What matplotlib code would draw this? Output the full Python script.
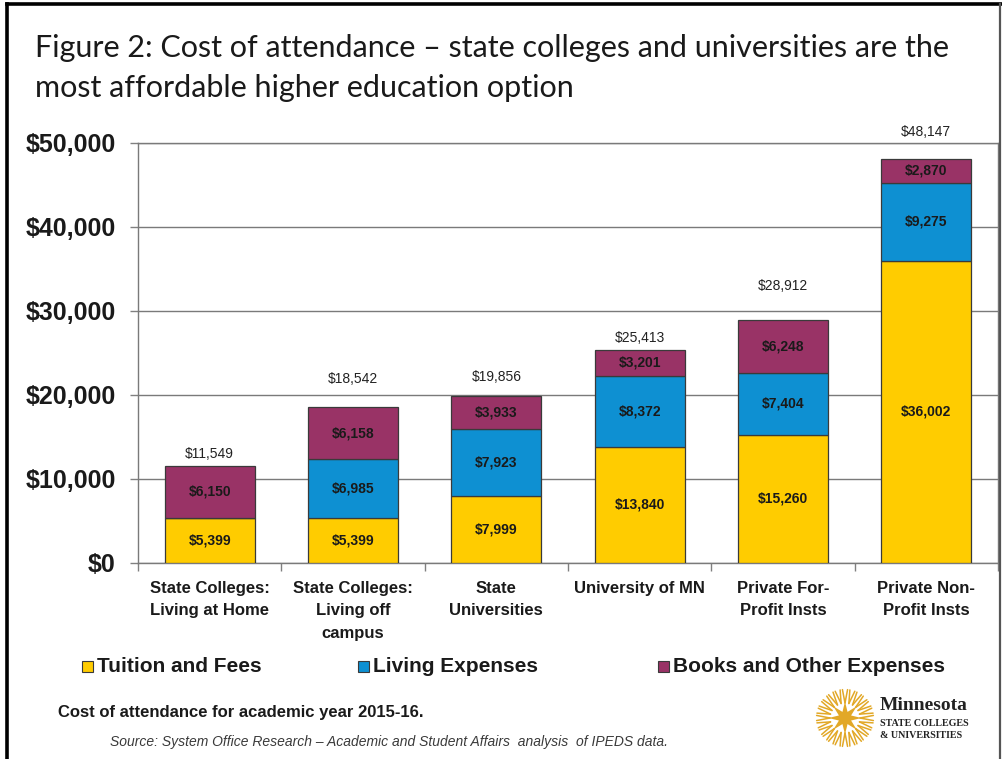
import matplotlib
matplotlib.use("Agg")
import matplotlib.pyplot as plt
import numpy as np
from matplotlib.lines import Line2D
from matplotlib.patches import Polygon, Rectangle

W, H = 1003, 759

# cost of attendance, academic year 2015-16
categories = [
    "State Colleges:\nLiving at Home",
    "State Colleges:\nLiving off\ncampus",
    "State\nUniversities",
    "University of MN",
    "Private For-\nProfit Insts",
    "Private Non-\nProfit Insts",
]
tuition = [5399, 5399, 7999, 13840, 15260, 36002]
living = [0, 6985, 7923, 8372, 7404, 9275]
books = [6150, 6158, 3933, 3201, 6248, 2870]
totals = [11549, 18542, 19856, 25413, 28912, 48147]
series_names = ["Tuition and Fees", "Living Expenses", "Books and Other Expenses"]
y_ticks = [0, 10000, 20000, 30000, 40000, 50000]

COLORS = ["#FFCC00", "#0E90D2", "#993366"]
EDGE = "#3a3a3a"
SANS = ["Liberation Sans", "DejaVu Sans"]
NARROW = ["Liberation Sans Narrow", "Liberation Sans", "DejaVu Sans"]

# gap (points) between bar top and its total label
TOTAL_OFFSETS = [8.6, 20, 13.7, 8.6, 24.5, 19.4]


def fx(px):
    return px / W


def fy(py):
    return 1 - py / H


fig = plt.figure(figsize=(W / 100, H / 100), dpi=100)
fig.patch.set_facecolor("white")

# slide frame
for xs, ys, lw, col in [((7, 7), (4, H), 2.6, "black"),
                        ((7, 1003), (4, 4), 2.6, "black"),
                        ((1000, 1000), (4, H), 1.6, "#555555")]:
    fig.add_artist(Line2D([fx(x) for x in xs], [fy(y) for y in ys],
                          color=col, linewidth=lw, transform=fig.transFigure))

fig.text(fx(35), fy(48), "Figure 2: Cost of attendance \u2013 state colleges and universities are the",
         family=["Lato", "DejaVu Sans"], fontsize=22, color="#1a1a1a", va="center", ha="left")
fig.text(fx(35), fy(88), "most affordable higher education option",
         family=["Lato", "DejaVu Sans"], fontsize=22, color="#1a1a1a", va="center", ha="left")

ax = fig.add_axes([fx(138), fy(563), (998 - 138) / W, 420 / H])
x = np.arange(len(categories))
width = 0.63

stack = [tuition, living, books]
bottom = np.zeros(len(categories))
for vals, color, name in zip(stack, COLORS, series_names):
    vals = np.array(vals, dtype=float)
    bars = ax.bar(x, vals, width, bottom=bottom, color=color, edgecolor=EDGE,
                  linewidth=0.9, label=name, zorder=3)
    for b, v, b0 in zip(bars, vals, bottom):
        if v <= 0:
            continue
        ax.text(b.get_x() + b.get_width() / 2, b0 + v / 2, f"${v:,.0f}",
                ha="center", va="center", family=SANS, fontweight="bold",
                fontsize=10, color="#1a1a1a", zorder=4)
    bottom += vals

for xi, top, total, off in zip(x, bottom, totals, TOTAL_OFFSETS):
    ax.annotate(f"${total:,}", (xi, top), xytext=(0, off), textcoords="offset points",
                ha="center", va="center", family=NARROW, fontsize=10, color="#222222")

ax.set_xlim(-0.5, len(categories) - 0.5)
ax.set_ylim(0, 50000)
ax.set_yticks(y_ticks)
ax.set_yticklabels([f"${t:,}" for t in y_ticks], family=SANS, fontweight="bold",
                   fontsize=18, color="#1a1a1a")
ax.tick_params(axis="y", length=6, width=1, color="#808080", pad=10)

ax.set_xticks(x)
ax.set_xticklabels(categories, family=SANS, fontweight="bold", fontsize=12,
                   color="#1a1a1a", linespacing=1.62, va="top")
ax.tick_params(axis="x", which="major", length=0, pad=13)
ax.set_xticks(np.arange(len(categories) + 1) - 0.5, minor=True)
ax.tick_params(axis="x", which="minor", length=6, width=1, color="#808080")

ax.grid(axis="y", color="#7a7a7a", linewidth=1, zorder=0)
ax.set_axisbelow(True)
for spine in ax.spines.values():
    spine.set_color("#7a7a7a")
    spine.set_linewidth(1)

# legend row
legend_x = [82, 358, 658]
for lx, color, name in zip(legend_x, COLORS, series_names):
    fig.add_artist(Rectangle((fx(lx), fy(672)), 11 / W, 11 / H, facecolor=color,
                             edgecolor=EDGE, linewidth=0.8, transform=fig.transFigure))
    fig.text(fx(lx + 15), fy(666), name, family=SANS, fontweight="bold",
             fontsize=15, color="#1a1a1a", va="center", ha="left")

fig.text(fx(58), fy(713), "Cost of attendance for academic year 2015-16.",
         family=SANS, fontweight="bold", fontsize=12, color="#1a1a1a", va="center")
fig.text(fx(110), fy(742),
         "Source: System Office Research \u2013 Academic and Student Affairs  analysis  of IPEDS data.",
         family=SANS, style="italic", fontsize=10, color="#3a3a3a", va="center")

# Minnesota State logo: gold starburst and wordmark
lax = fig.add_axes([fx(815), fy(748), 60 / W, 60 / H])
lax.set_xlim(-1, 1)
lax.set_ylim(-1, 1)
lax.set_aspect("equal")
lax.axis("off")
gold = "#E2A827"
ang = np.linspace(0, 2 * np.pi, 17)[:-1] + np.pi / 2
r = np.where(np.arange(16) % 2 == 0, 0.55, 0.22)
lax.add_patch(Polygon(np.c_[r * np.cos(ang), r * np.sin(ang)], closed=True,
                      facecolor=gold, edgecolor="none"))
for a in np.linspace(0, 2 * np.pi, 25)[:-1]:
    for d in (-0.09, 0.09):
        lax.plot([0.5 * np.cos(a), 0.95 * np.cos(a + d)],
                 [0.5 * np.sin(a), 0.95 * np.sin(a + d)],
                 color=gold, linewidth=1.1, solid_capstyle="round")

SERIF = ["Liberation Serif", "DejaVu Serif"]
fig.text(fx(880), fy(705), "Minnesota", family=SERIF, fontweight="bold",
         fontsize=14, color="#222222", va="center")
fig.text(fx(880), fy(723), "STATE COLLEGES", family=SERIF, fontweight="bold",
         fontsize=7.2, color="#222222", va="center")
fig.text(fx(880), fy(736), "& UNIVERSITIES", family=SERIF, fontweight="bold",
         fontsize=7.2, color="#222222", va="center")

fig.savefig("out.png", dpi=100)
